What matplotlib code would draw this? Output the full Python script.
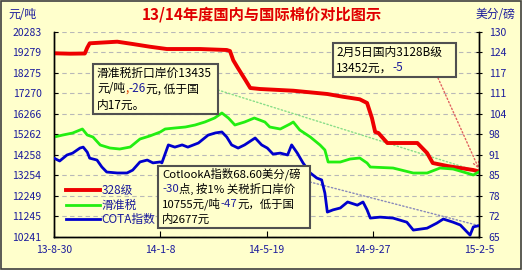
import numpy as np
import pandas as pd
import matplotlib
matplotlib.use('Agg')
import matplotlib.pyplot as plt
from matplotlib.patches import Rectangle

plt.rcParams['font.family'] = ['Noto Sans CJK SC', 'DejaVu Sans']

start = pd.Timestamp('2013-08-30')

# 328级 (元/吨)
red_day = [0, 20, 38, 41, 44, 57, 78, 97, 118, 139, 180, 213, 217, 221, 226, 236, 242, 254, 295, 337,
           356, 377, 386, 392, 396, 400, 411, 435, 448, 460, 467, 485, 501, 517, 524]
red_val = [19240, 19220, 19230, 19514, 19729, 19760, 19808, 19695, 19563, 19450, 19450, 19401, 19350, 18900,
           18568, 17931, 17540, 17491, 17407, 17246, 17113, 16986, 16805, 16070, 15384, 15335, 14845, 14845,
           14845, 14355, 13865, 13718, 13620, 13522, 13452]

# 滑准税 (元/吨)
green_day = [0, 11, 23, 35, 41, 48, 57, 69, 81, 94, 106, 118, 131, 137, 149, 162, 174, 186, 198, 207,
             215, 223, 235, 247, 260, 266, 279, 291, 295, 303, 316, 328, 334, 338, 353, 365, 377, 386, 390,
             418, 443, 460, 476, 492, 509, 517, 524]
green_val = [15139, 15237, 15335, 15531, 15237, 15139, 14747, 14600, 14551, 14649, 15041, 15188, 15384, 15531,
             15580, 15629, 15727, 15874, 16070, 16315, 16070, 15727, 15874, 16070, 15874, 15629, 15531, 15776,
             15874, 15482, 15139, 14747, 14502, 13914, 13914, 14061, 14110, 13865, 13669, 13620, 13375, 13375,
             13620, 13571, 13375, 13277, 13435]

# COTA指数 (美分/磅)
blue_day = [0, 7, 16, 23, 32, 36, 41, 44, 53, 59, 65, 78, 90, 97, 106, 115, 122, 131, 133, 141,
            149, 158, 165, 178, 190, 199, 207, 213, 219, 227, 235, 248, 256, 263, 270, 279, 288, 293, 300, 307,
            316, 324, 330, 334, 337, 344, 353, 362, 374, 381, 386, 390, 402, 418, 435, 443, 460, 472, 480, 492,
            501, 513, 517, 524]
blue_val = [90.0, 89.1, 91.0, 91.6, 93.2, 93.5, 91.9, 90.0, 89.4, 87.2, 85.6, 85.3, 85.3, 86.2, 88.8, 89.4,
            88.5, 88.8, 88.5, 94.2, 93.5, 94.2, 93.5, 94.8, 97.3, 98.0, 98.3, 96.7, 94.2, 93.2, 94.2, 96.4,
            94.2, 93.2, 91.3, 91.6, 91.0, 94.2, 91.6, 88.5, 85.3, 83.7, 83.1, 78.9, 72.9, 73.6, 74.2, 76.1,
            75.1, 76.1, 73.6, 71.0, 71.3, 71.0, 69.7, 67.2, 67.8, 69.4, 70.7, 69.7, 68.8, 65.6, 68.2, 68.6]

left_ticks = ['20283', '19279', '18275', '17270', '16266', '15262', '14258', '13254', '12249', '11245', '10241']
right_ticks = ['130', '124', '117', '111', '104', '98', '91', '85', '78', '72', '65']
x_ticks = ['13-8-30', '14-1-8', '14-5-19', '14-9-27', '15-2-5']
x_tick_dates = ['2013-08-30', '2014-01-08', '2014-05-19', '2014-09-27', '2015-02-05']

red_x = start + pd.to_timedelta(red_day, unit='D')
green_x = start + pd.to_timedelta(green_day, unit='D')
blue_x = start + pd.to_timedelta(blue_day, unit='D')

bg = '#FFFFCC'
navy = '#1C1C9C'
W, H = 522, 270

fig = plt.figure(figsize=(5.22, 2.70), dpi=100, facecolor=bg)
ax = fig.add_axes([54 / W, 1 - 237 / H, 425 / W, 205 / H])
ax.set_facecolor(bg)
ax2 = ax.twinx()

l1, = ax.plot(red_x, red_val, color='#EE0000', lw=2.8, label='328级', zorder=3)
l2, = ax.plot(green_x, green_val, color='#22EE11', lw=2.0, label='滑准税', zorder=3)
l3, = ax2.plot(blue_x, blue_val, color='#0000CC', lw=2.0, label='COTA指数', zorder=3)

lo = [float(v) for v in left_ticks]
ax.set_ylim(min(lo), max(lo))
ax.set_yticks(np.linspace(min(lo), max(lo), len(left_ticks))[::-1])
ax.set_yticklabels(left_ticks)
ro = [float(v) for v in right_ticks]
ax2.set_ylim(min(ro), max(ro))
ax2.set_yticks(np.linspace(min(ro), max(ro), len(right_ticks))[::-1])
ax2.set_yticklabels(right_ticks)

ax.set_xlim(pd.Timestamp(x_tick_dates[0]), pd.Timestamp(x_tick_dates[-1]))
ax.set_xticks(pd.to_datetime(x_tick_dates))
ax.set_xticklabels(x_ticks)

ax.grid(axis='y', color='#B8B8B8', linestyle=(0, (4, 3)), lw=0.8)
ax.grid(axis='x', visible=False)
for a in (ax, ax2):
    a.spines['top'].set_visible(False)
    for s in ('left', 'right', 'bottom'):
        a.spines[s].set_color('black')
        a.spines[s].set_linewidth(1.0)
ax.tick_params(axis='y', direction='in', length=3, colors='black', labelcolor=navy, labelsize=7.5, pad=9)
ax2.tick_params(axis='y', direction='inout', length=4, colors='black', labelcolor=navy, labelsize=7.5, pad=5)
ax.tick_params(axis='x', direction='in', length=4, colors='black', labelcolor=navy, labelsize=7.5, pad=6)
ax2.set_zorder(ax.get_zorder() + 1)
ax2.patch.set_visible(False)

fig.text(262 / W, 1 - 14 / H, '13/14年度国内与国际棉价对比图示', color='#E00000', fontsize=11,
         fontweight='bold', ha='center', va='center')
fig.text(8 / W, 1 - 15 / H, '元/吨', color=navy, fontsize=8.5, ha='left', va='center')
fig.text(515 / W, 1 - 15 / H, '美分/磅', color=navy, fontsize=8.5, ha='right', va='center')

leg = ax2.legend(handles=[l1, l2, l3], loc='upper left', bbox_to_anchor=(60 / W, 1 - 178 / H),
                 bbox_transform=fig.transFigure, frameon=False, fontsize=8.5, handlelength=2.9,
                 handletextpad=0.1, labelspacing=0.15, borderpad=0)
for t in leg.get_texts():
    t.set_color(navy)


def box(x0, y0, x1, y1):
    r = Rectangle((x0 / W, 1 - y1 / H), (x1 - x0) / W, (y1 - y0) / H, transform=fig.transFigure,
                  facecolor=bg, edgecolor='#505050', lw=1.5, zorder=10, clip_on=False)
    ax2.add_artist(r)


def rainbow(x, y, parts, size=8.5):
    t = ax2.annotate(parts[0][0], xy=(x / W, 1 - y / H), xycoords='figure fraction', color=parts[0][1],
                     fontsize=size, va='center', ha='left', zorder=11, annotation_clip=False)
    for s, c in parts[1:]:
        t = ax2.annotate(s, xy=(1, 0.5), xycoords=t, color=c, fontsize=size, va='center', ha='left',
                         zorder=11, annotation_clip=False)


# dotted leaders
ax.annotate('', xy=(green_x[-1], green_val[-1]), xytext=(218 / W, 1 - 90 / H), textcoords='figure fraction',
            arrowprops=dict(arrowstyle='-', color='#88DD88', linestyle=':', lw=1.0, shrinkA=0, shrinkB=0),
            zorder=2)
ax2.annotate('', xy=(blue_x[-1], blue_val[-1]), xytext=(310 / W, 1 - 182 / H), textcoords='figure fraction',
             arrowprops=dict(arrowstyle='-', color='#8888BB', linestyle=':', lw=1.0, shrinkA=0, shrinkB=0),
             zorder=2)
ax.annotate('', xy=(red_x[-1], red_val[-1] + 120), xytext=(438 / W, 1 - 78 / H), textcoords='figure fraction',
            arrowprops=dict(arrowstyle='->', color='#E06060', linestyle=':', lw=1.0, shrinkA=0, shrinkB=0),
            zorder=2)

box(93, 64, 218, 114)
rainbow(97, 73, [('滑准税折口岸价13435', 'black')])
rainbow(97, 89, [('元/吨', 'black'), (',', '#E04000'), ('-26', navy), ('元, 低于国', 'black')])
rainbow(97, 105, [('内17元。', 'black')])

box(333, 43, 456, 77)
rainbow(336, 52, [('2月5日国内3128B级', 'black')])
rainbow(336, 68, [('13452元，', 'black'), ('-5', navy)])

box(158, 166, 310, 228)
rainbow(162, 174, [('CotlookA指数68.60美分/磅', 'black')], size=8.2)
rainbow(162, 189, [('-30', navy), ('点, 按1% 关税折口岸价', 'black')], size=8.2)
rainbow(162, 204, [('10755元/吨', 'black'), ('-47', navy), ('元，低于国', 'black')], size=8.2)
rainbow(162, 219, [('内2677元', 'black')], size=8.2)

fig.patches.append(Rectangle((0.001, 0.002), 0.997, 0.995, transform=fig.transFigure, fill=False,
                             edgecolor='#404040', lw=1.2, zorder=20))

fig.savefig('out.png', dpi=100, facecolor=bg)
